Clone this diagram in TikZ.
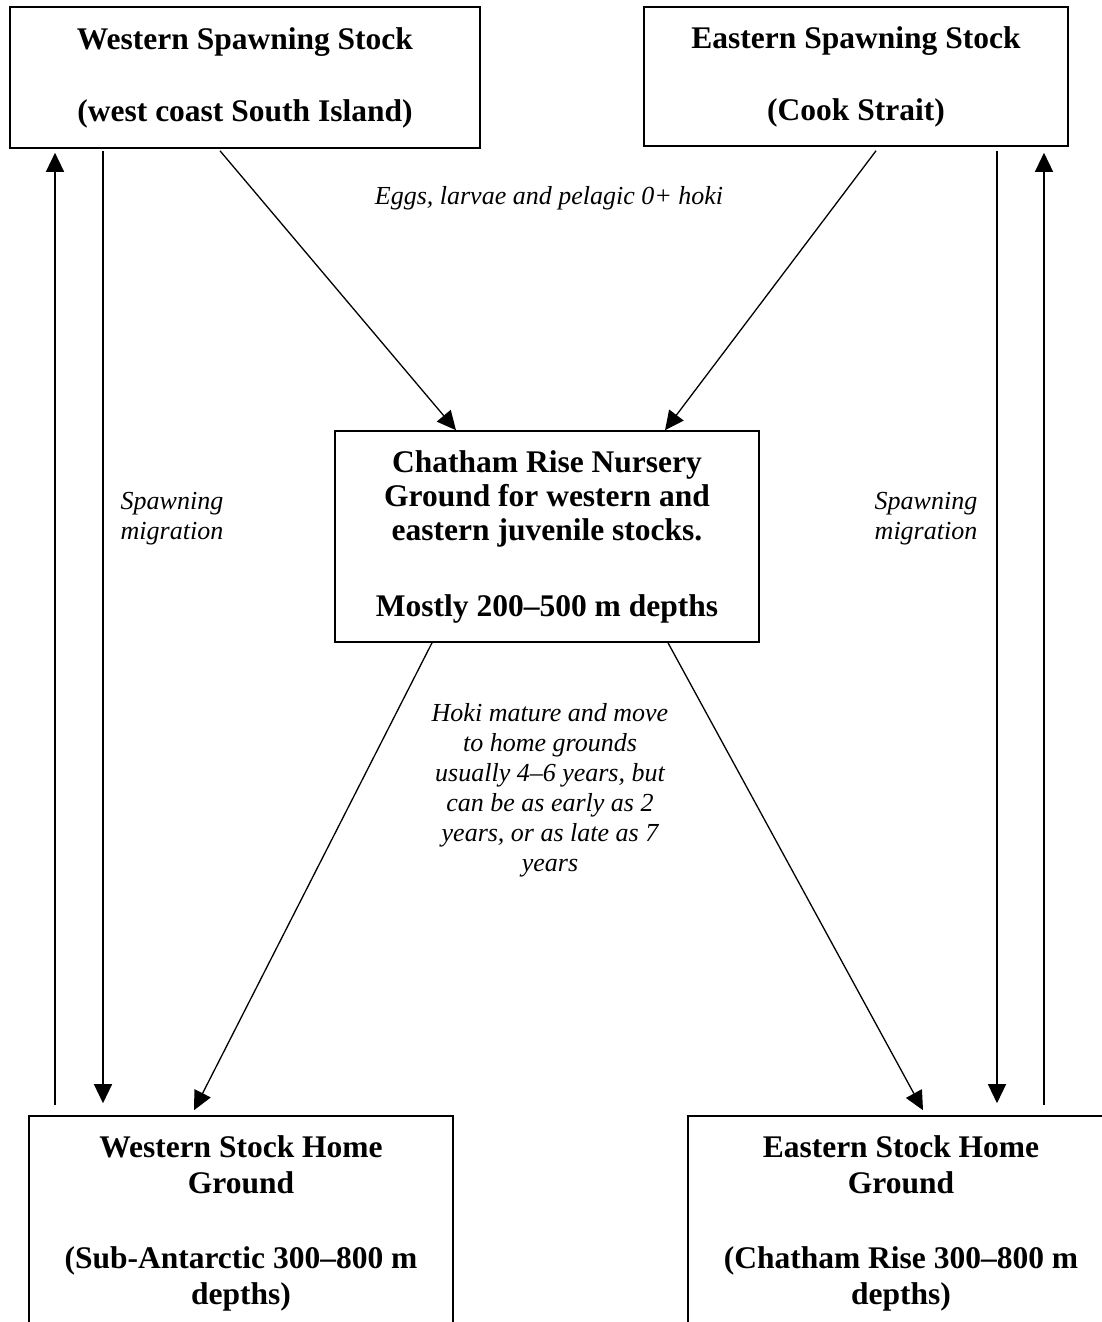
\documentclass[tikz,border=0pt]{standalone}
\usepackage{fontspec}
\setmainfont{Liberation Serif}
\usetikzlibrary{arrows.meta}

\begin{document}
\begin{tikzpicture}
[x=1pt,y=1pt,
stockbox/.style={rectangle,draw,line width=1.6pt,inner sep=0pt,align=center,font=\bfseries\fontsize{31.5}{36}\selectfont},
nurserybox/.style={stockbox,font=\bfseries\fontsize{31.5}{34}\selectfont},
flow/.style={-{Triangle[length=19pt,width=18pt]},line width=1.3pt},
note/.style={align=center,font=\itshape\fontsize{26}{30}\selectfont}]
\useasboundingbox (0,0) rectangle (1102,-1322);
\clip (0,0) rectangle (1102,-1322);
\node[stockbox,minimum width=470,minimum height=141] (wss) at (245,-77.5)
  {Western Spawning Stock\\[36pt](west coast South Island)};
\node[stockbox,minimum width=424,minimum height=139] (ess) at (856,-76.5)
  {Eastern Spawning Stock\\[36pt](Cook Strait)};
\node[nurserybox,minimum width=424,minimum height=211] (cr) at (547,-536.5)
  {Chatham Rise Nursery\\Ground for western and\\eastern juvenile stocks.\\[42pt]Mostly 200–500 m depths};
\node[stockbox,minimum width=424,minimum height=214] (whg) at (241,-1223)
  {Western Stock Home\\Ground\\[39pt](Sub-Antarctic 300–800 m\\depths)};
\node[stockbox,minimum width=426,minimum height=214] (ehg) at (901,-1223)
  {Eastern Stock Home\\Ground\\[39pt](Chatham Rise 300–800 m\\depths)};
\node[note] (eggs) at (549,-198) {Eggs, larvae and pelagic 0+ hoki};
\node[note] (wmig) at (172,-519) {Spawning\\migration};
\node[note] (emig) at (926,-519) {Spawning\\migration};
\node[note] (mature) at (550,-790)
  {Hoki mature and move\\to home grounds\\usually 4–6 years, but\\can be as early as 2\\years, or as late as 7\\years};
\draw[flow] ([shift={(-25,-2)}]wss.south) -- ([xshift=-91]cr.north);
\draw[flow] ([shift={(20,-4)}]ess.south) -- ([xshift=118]cr.north);
\draw[flow] ([xshift=-115]cr.south) -- ([shift={(-47,5)}]whg.north);
\draw[flow] ([xshift=121]cr.south) -- ([shift={(22,5)}]ehg.north);
\draw[flow] ([shift={(-142,-2)}]wss.south) -- ([shift={(-138,12)}]whg.north);
\draw[flow] ([shift={(-186,10)}]whg.north) -- ([shift={(-190,-4)}]wss.south);
\draw[flow] ([shift={(141,-4)}]ess.south) -- ([shift={(96,12)}]ehg.north);
\draw[flow] ([shift={(143,10)}]ehg.north) -- ([shift={(188,-6)}]ess.south);
\end{tikzpicture}
\end{document}
